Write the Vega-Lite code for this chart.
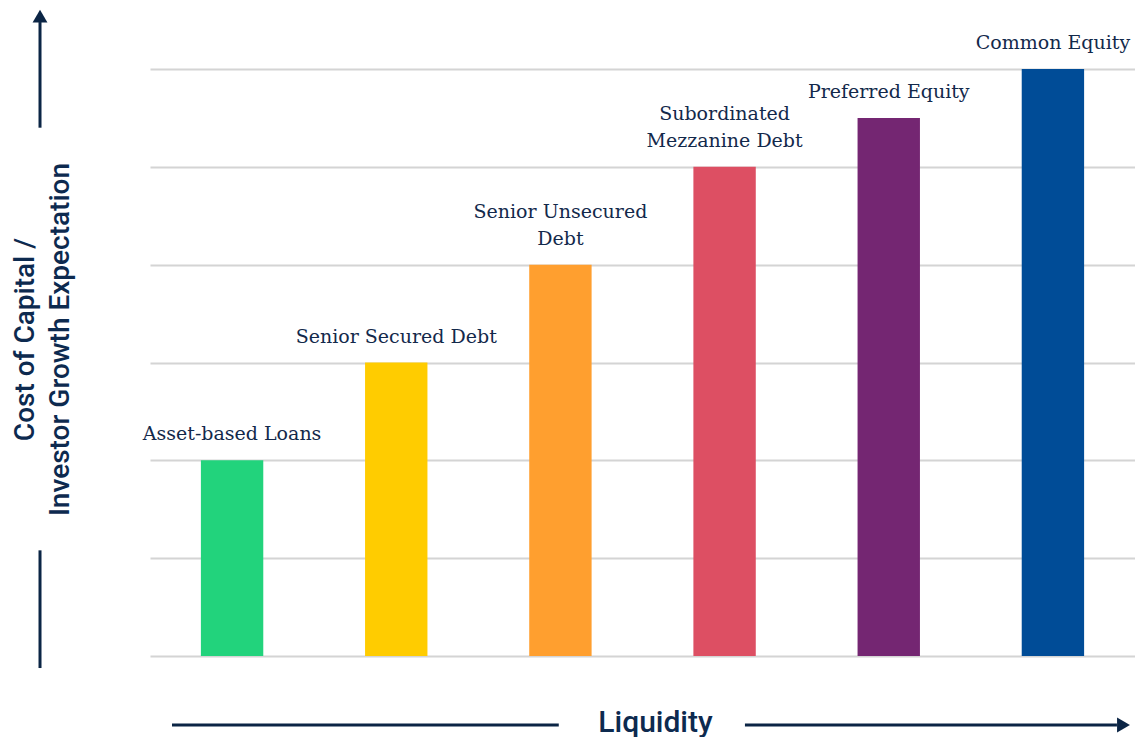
{
  "$schema": "https://vega.github.io/schema/vega-lite/v6.json",
  "autosize": "none",
  "width": 985,
  "height": 587,
  "padding": {"left": 150, "top": 69, "right": 0, "bottom": 81},
  "background": "white",
  "config": {"view": {"stroke": null}},
  "layer": [
    {
      "data": {"values": [
        {"cat": "Asset-based Loans", "label": "Asset-based Loans", "value": 2},
        {"cat": "Senior Secured Debt", "label": "Senior Secured Debt", "value": 3},
        {"cat": "Senior Unsecured Debt", "label": "Senior Unsecured|Debt", "value": 4},
        {"cat": "Subordinated Mezzanine Debt", "label": "Subordinated|Mezzanine Debt", "value": 5},
        {"cat": "Preferred Equity", "label": "Preferred Equity", "value": 5.5},
        {"cat": "Common Equity", "label": "Common Equity", "value": 6}
      ]},
      "encoding": {
        "x": {"field": "cat", "type": "nominal", "sort": null,
          "scale": {"paddingInner": 0.62, "paddingOuter": 0.31},
          "axis": {"title": "Liquidity", "labels": false, "ticks": false, "domain": false,
            "titleFont": "Roboto", "titleFontSize": 30, "titleFontWeight": 500,
            "titleColor": "#0d2a4f", "titleX": 505, "titleY": 66, "titleBaseline": "middle", "titleAlign": "center"}},
        "y": {"field": "value", "type": "quantitative",
          "scale": {"domain": [0, 6], "nice": false},
          "axis": {"values": [0, 1, 2, 3, 4, 5, 6], "labels": false, "ticks": false, "domain": false,
            "grid": true, "gridColor": "#d4d4d4", "gridWidth": 2,
            "title": ["Cost of Capital /", "Investor Growth Expectation"],
            "titleFont": "Roboto", "titleFontSize": 28, "titleFontWeight": 500,
            "titleColor": "#0d2a4f", "titleAngle": -90, "titleX": -125, "titleY": 270,
            "titleAlign": "center", "titleBaseline": "middle", "titleLineHeight": 35}}
      },
      "layer": [
        {
          "mark": {"type": "bar"},
          "encoding": {
            "color": {"field": "cat", "type": "nominal", "sort": null, "legend": null,
              "scale": {"range": ["#22d37c", "#ffcc00", "#ff9f2f", "#dd4f63", "#742672", "#004c97"]}}
          }
        },
        {
          "transform": [{"filter": "indexof(datum.label, '|') < 0"}],
          "mark": {"type": "text", "baseline": "bottom", "dy": -16, "font": "DejaVu Serif", "fontSize": 19,
            "color": "#13294b", "lineBreak": "|", "lineHeight": 27},
          "encoding": {"text": {"field": "label", "type": "nominal"}}
        },
        {
          "transform": [{"filter": "indexof(datum.label, '|') >= 0"}],
          "mark": {"type": "text", "baseline": "bottom", "dy": -43, "font": "DejaVu Serif", "fontSize": 19,
            "color": "#13294b", "lineBreak": "|", "lineHeight": 27},
          "encoding": {"text": {"field": "label", "type": "nominal"}}
        }
      ]
    },
    {
      "data": {"values": [
        {"x1": -0.67, "x2": -0.67, "y1": -0.123, "y2": 1.08},
        {"x1": -0.67, "x2": -0.67, "y1": 5.40, "y2": 6.48},
        {"x1": 0.134, "x2": 2.49, "y1": -0.705, "y2": -0.705},
        {"x1": 3.624, "x2": 5.89, "y1": -0.705, "y2": -0.705}
      ]},
      "mark": {"type": "rule", "color": "#0b2545", "strokeWidth": 3},
      "encoding": {
        "x": {"field": "x1", "type": "quantitative", "scale": {"domain": [0, 6], "nice": false, "zero": false}, "axis": null},
        "x2": {"field": "x2"},
        "y": {"field": "y1", "type": "quantitative"},
        "y2": {"field": "y2"}
      }
    },
    {
      "data": {"values": [
        {"px": -0.67, "py": 6.54, "shape": "triangle-up"},
        {"px": 5.93, "py": -0.705, "shape": "triangle-right"}
      ]},
      "mark": {"type": "point", "filled": true, "opacity": 1, "color": "#0b2545", "size": 220},
      "encoding": {
        "x": {"field": "px", "type": "quantitative", "scale": {"domain": [0, 6], "nice": false, "zero": false}, "axis": null},
        "y": {"field": "py", "type": "quantitative"},
        "shape": {"field": "shape", "type": "nominal", "scale": null, "legend": null}
      }
    }
  ],
  "resolve": {"scale": {"x": "independent", "color": "independent", "shape": "independent"}}
}
